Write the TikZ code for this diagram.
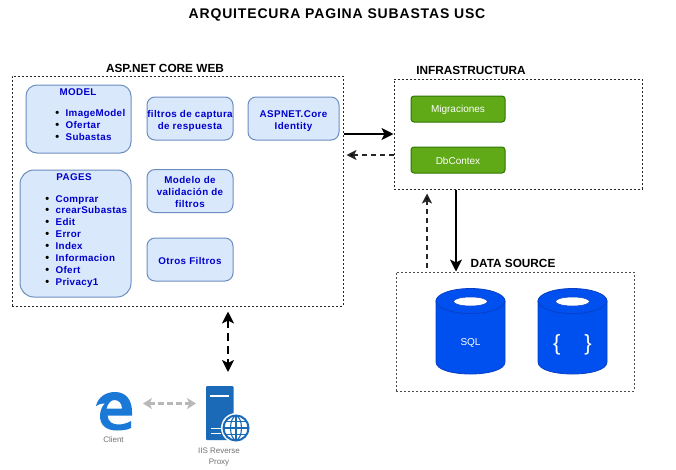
\documentclass[tikz,border=0pt]{standalone}
\usepackage{fontspec}
\setmainfont{Liberation Sans}
\newfontfamily\spacedbold[LetterSpace=4,BoldFont={Liberation Sans Bold}]{Liberation Sans}
\newfontfamily\listbold[LetterSpace=3.3,BoldFont={Liberation Sans Bold}]{Liberation Sans}
\newfontfamily\titlefont[LetterSpace=6]{Liberation Sans Bold}
\usetikzlibrary{arrows.meta,calc}
\definecolor{bluefill}{HTML}{DAE8FC}
\definecolor{bluestroke}{HTML}{6C8EBF}
\definecolor{bluetext}{HTML}{0000CC}
\definecolor{greenfill}{HTML}{60A917}
\definecolor{greenstroke}{HTML}{2D7600}
\definecolor{cylfill}{HTML}{0050EF}
\definecolor{cylstroke}{HTML}{0A3FC4}
\definecolor{msblue}{HTML}{1B6AB8}
\definecolor{edgeblue}{HTML}{1A78D6}
\definecolor{greyarrow}{HTML}{B8B8B8}
\tikzset{
  x=1pt,y=-1pt,
  frame/.style={draw=black!85,dash pattern=on 2pt off 2pt,line width=1pt,inner sep=0pt},
  bluebox/.style={draw=bluestroke,fill=bluefill,line width=1pt,rounded corners=8pt,inner sep=0pt,
     align=center,text=bluetext,font=\fontsize{9.8}{12}\spacedbold\bfseries},
  greenbox/.style={draw=greenstroke,fill=greenfill,line width=1pt,rounded corners=3pt,inner sep=0pt,
     minimum width=94pt,minimum height=26pt,text=white,font=\fontsize{10}{12}\selectfont},
  blockhead/.style={font=\fontsize{11.8}{14}\selectfont\bfseries,inner sep=0pt},
  listtext/.style={inner sep=0pt,align=left,anchor=north west,text=bluetext,font=\fontsize{9.8}{11.9}\listbold\bfseries},
  heavy/.style={line width=2.5pt,-{Stealth[length=12pt,width=12pt,inset=3pt]}},
  dashline/.style={line width=1.5pt,dash pattern=on 5pt off 4pt,draw=black!85,-{Stealth[length=10pt,width=10pt,inset=2.5pt,fill=black]}},
  iconcap/.style={font=\fontsize{8}{11}\selectfont,text=black!55,align=center,inner sep=0pt},
}
\newcommand{\dn}[1]{\rule{0pt}{#1pt}}
\newcommand{\itm}[1]{\makebox[0pt][r]{\textcolor{black}{\fontsize{11}{11.9}\selectfont•}\hspace{6.5pt}}#1}
\newcommand{\dbcyl}[2]{%
  \fill[cylfill,draw=cylstroke,line width=.8pt] (#1-34.5,#2-13) -- (#1-34.5,#2+48)
     .. controls (#1-34.5,#2+64) and (#1+34.5,#2+64) .. (#1+34.5,#2+48) -- (#1+34.5,#2-13) -- cycle;
  \fill[cylfill,draw=cylstroke,line width=.8pt] (#1,#2-13) ellipse[x radius=34.5,y radius=12.5];
  \fill[white,draw=cylstroke,line width=.5pt] (#1,#2-12.5) ellipse[x radius=17,y radius=4.5];
}
\begin{document}
\begin{tikzpicture}
\useasboundingbox (0,0) rectangle (676,469);
\fill[white] (0,0) rectangle (676,469);

\node[font=\fontsize{14}{16}\titlefont,inner sep=0pt] (title) at (337,14.5) {ARQUITECURA PAGINA SUBASTAS USC};

% frames
\node[frame,minimum width=331pt,minimum height=230pt] (web) at (177.5,191) {};
\node[frame,minimum width=248pt,minimum height=110pt] (infra) at (518,134) {};
\node[frame,draw=black!70,minimum width=238pt,minimum height=119pt] (data) at (515,331.5) {};
\node[blockhead] (webT) at (165,68) {ASP.NET CORE WEB};
\node[blockhead] (infraT) at (471,70.5) {INFRASTRUCTURA};
\node[blockhead] (dataT) at (513,263.5) {DATA SOURCE};

% blue boxes
\node[bluebox,rounded corners=11pt,minimum width=105pt,minimum height=68pt] (model) at (78.5,119) {};
\node[bluebox,draw=none,fill=none] (modelT) at (78,92) {MODEL};
\node[listtext] (modelL) at (65.5,109.5) {\itm{ImageModel}\\\itm{Ofertar}\\\itm{Subastas}};
\node[bluebox,rounded corners=14pt,minimum width=111pt,minimum height=127pt] (pages) at (75.5,233.5) {};
\node[bluebox,draw=none,fill=none] (pagesT) at (74,177.5) {PAGES};
\node[listtext] (pagesL) at (55.5,195) {\itm{Comprar}\\\itm{crearSubastas}\\\itm{Edit}\\\itm{Error}\\\itm{Index}\\\itm{Informacion}\\\itm{Ofert}\\\itm{Privacy1}};
\node[bluebox,minimum width=86pt,minimum height=43pt] (filtros) at (190,118.5) {\dn{12}filtros de captura\\de respuesta};
\node[bluebox,minimum width=91pt,minimum height=43pt] (identity) at (293.5,118.5) {\dn{12}ASPNET.Core\\Identity};
\node[bluebox,minimum width=86pt,minimum height=43pt] (modelo) at (190,191) {\dn{9}Modelo de\\validación de\\filtros};
\node[bluebox,minimum width=86pt,minimum height=43pt] (otros) at (190,259.5) {\dn{10}Otros Filtros};

% green boxes
\node[greenbox] (migr) at (458,109) {\dn{10}Migraciones};
\node[greenbox] (dbc) at (458,160) {\dn{9}DbContex};

% cylinders
\dbcyl{470.5}{314}
\dbcyl{572.5}{314}
\node[text=white,font=\fontsize{10}{12}\selectfont,inner sep=0pt] (sql) at (470.5,342.5) {SQL};
\node[text=white,font=\fontsize{22}{24}\selectfont,inner sep=0pt] (json) at (572.5,344.5) {\{\hspace{24pt}\}};

% connectors
\draw[heavy] (web.east |- infra.west) -- (infra.west);
\draw[dashline] ([yshift=-21pt]infra.west) -- ([xshift=3pt,yshift=-21pt]web.east |- infra.west);
\draw[heavy] ([xshift=-62pt]infra.south) -- ([xshift=-62pt]infra.south |- data.north);
\draw[dashline] ([xshift=-88pt]data.north) ++(0,-4) coordinate (upS) -- ([xshift=-91pt,yshift=-4pt]infra.south);

% client icon
\fill[edgeblue,even odd rule] (96,406) .. controls (98,397) and (106,392) .. (115,392)
  .. controls (126,392) and (132,400) .. (132,412) -- (132,415.5) -- (107.5,415.5)
  .. controls (108,422) and (113,424.5) .. (118,424.5) .. controls (122,424.5) and (127,423.5) .. (131,421)
  -- (131,428) .. controls (127,430) and (122,430.5) .. (117,430.5)
  .. controls (106,430.5) and (100,425) .. (100,416) .. controls (100,411) and (102,406) .. (105,403.5)
  .. controls (101,403.5) and (98,404.5) .. (96,406) -- cycle
  (106.5,408.5) -- (122,408.5) .. controls (122,403) and (118.5,400) .. (114.5,400) .. controls (111,400) and (108,403) .. (106.5,408.5) -- cycle;
\node[iconcap] (client) at (113.5,440) {Client};

% proxy icon
\fill[msblue,rounded corners=1pt] (206,386) rectangle (233.5,440);
\draw[white,line width=2pt] (210,395.5) -- (229,395.5);
\draw[white,line width=1pt] (211,428) -- (221,428) (211,433) -- (221,433);
\fill[white] (236,428) circle (15);
\begin{scope}[msblue,line width=1.1pt]
  \draw[line width=2pt] (236,428) circle (12.5);
  \draw (236,428) ellipse[x radius=5.5,y radius=12];
  \draw (224,428) -- (248,428) (236,416) -- (236,440);
  \draw (226,421.5) -- (246,421.5) (226,434.5) -- (246,434.5);
\end{scope}
\coordinate (proxyTop) at (228,372);
\node[iconcap] (proxy) at (219,457.5) {IIS Reverse\\Proxy};
\coordinate (clientR) at (143,403.5);
\coordinate (proxyL) at (196,403.5);

\draw[draw=black,line width=2pt,dash pattern=on 8pt off 5pt,{Stealth[length=12pt,width=12pt,inset=3pt]}-{Stealth[length=12pt,width=12pt,inset=3pt]}] ([yshift=-5pt]web.south -| proxyTop) -- (proxyTop);
\draw[greyarrow,line width=2.5pt,dash pattern=on 6pt off 3pt,{Stealth[length=9pt,width=11pt,inset=2.5pt]}-{Stealth[length=9pt,width=11pt,inset=2.5pt]}] (clientR) -- (proxyL);
\end{tikzpicture}
\end{document}
